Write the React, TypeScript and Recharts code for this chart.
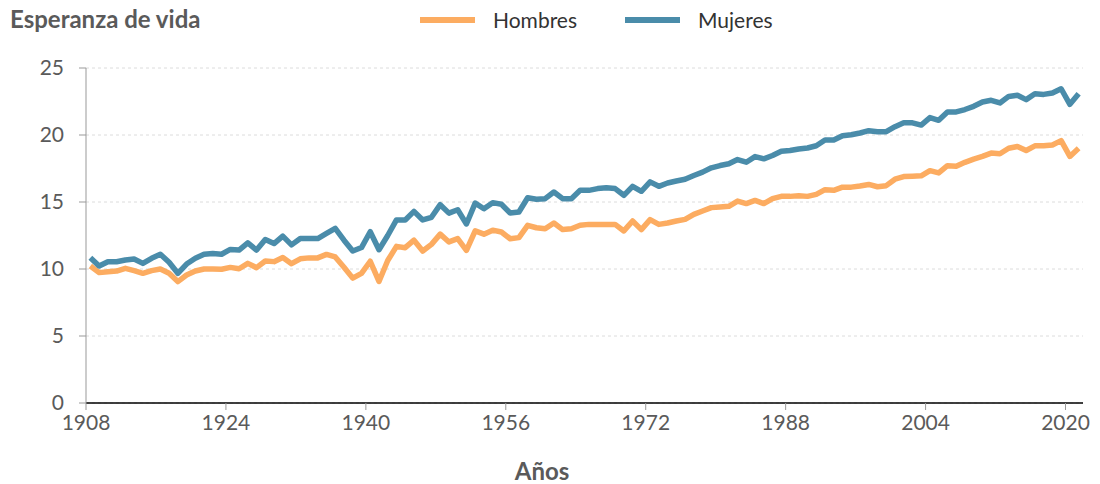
import React from 'react';
import { LineChart, Line, XAxis, YAxis, CartesianGrid } from 'recharts';

const START_YEAR = 1908;

const hombres: number[] = [
  10.22, 9.73, 9.8, 9.85, 10.05, 9.88, 9.68, 9.88, 10.0, 9.68, // 1908-1917
  9.06, 9.55, 9.85, 10.0, 10.0, 9.98, 10.12, 10.02, 10.42, 10.1, // 1918-1927
  10.6, 10.55, 10.85, 10.4, 10.76, 10.83, 10.83, 11.09, 10.9, 10.13, // 1928-1937
  9.32, 9.67, 10.58, 9.07, 10.63, 11.69, 11.59, 12.15, 11.34, 11.84, // 1938-1947
  12.6, 12.02, 12.27, 11.39, 12.85, 12.6, 12.9, 12.76, 12.26, 12.34, // 1948-1957
  13.26, 13.08, 13.0, 13.43, 12.94, 13.0, 13.26, 13.33, 13.33, 13.33, // 1958-1967
  13.33, 12.84, 13.58, 12.94, 13.68, 13.33, 13.43, 13.58, 13.7, 14.08, // 1968-1977
  14.33, 14.58, 14.63, 14.68, 15.07, 14.88, 15.12, 14.88, 15.25, 15.42, // 1978-1987
  15.42, 15.47, 15.42, 15.57, 15.92, 15.87, 16.11, 16.11, 16.19, 16.31, // 1988-1997
  16.14, 16.22, 16.7, 16.9, 16.92, 16.95, 17.34, 17.17, 17.71, 17.66, // 1998-2007
  17.96, 18.2, 18.4, 18.65, 18.6, 19.01, 19.14, 18.84, 19.19, 19.19, // 2008-2017
  19.26, 19.58, 18.4, 19.01, // 2018-2021
];

const mujeres: number[] = [
  10.84, 10.22, 10.54, 10.54, 10.67, 10.74, 10.42, 10.8, 11.1, 10.5, // 1908-1917
  9.68, 10.37, 10.8, 11.1, 11.15, 11.1, 11.46, 11.41, 11.95, 11.41, // 1918-1927
  12.2, 11.9, 12.45, 11.8, 12.27, 12.27, 12.27, 12.65, 13.03, 12.15, // 1928-1937
  11.34, 11.6, 12.78, 11.44, 12.5, 13.66, 13.66, 14.3, 13.66, 13.86, // 1938-1947
  14.8, 14.17, 14.42, 13.36, 14.92, 14.5, 14.95, 14.83, 14.18, 14.25, // 1948-1957
  15.32, 15.2, 15.25, 15.75, 15.25, 15.25, 15.87, 15.87, 16.0, 16.07, // 1958-1967
  16.0, 15.5, 16.17, 15.8, 16.5, 16.17, 16.42, 16.57, 16.7, 16.98, // 1968-1977
  17.23, 17.55, 17.72, 17.85, 18.17, 17.97, 18.39, 18.22, 18.47, 18.79, // 1978-1987
  18.84, 18.96, 19.03, 19.2, 19.63, 19.63, 19.95, 20.02, 20.15, 20.32, // 1988-1997
  20.25, 20.25, 20.62, 20.91, 20.91, 20.74, 21.3, 21.1, 21.72, 21.72, // 1998-2007
  21.9, 22.14, 22.46, 22.59, 22.39, 22.88, 22.96, 22.64, 23.08, 23.03, // 2008-2017
  23.13, 23.45, 22.29, 23.08, // 2018-2021
];

const years: number[] = hombres.map((_, i) => START_YEAR + i);

const xTicks = [1908, 1924, 1940, 1956, 1972, 1988, 2004, 2020];
const yTicks = [0, 5, 10, 15, 20, 25];

const seriesNames = { hombres: 'Hombres', mujeres: 'Mujeres' };
const COLOR_H = '#FCAC61';
const COLOR_M = '#4A8CAA';
const TEXT = '#5a5a5a';
const FONT = 'Lato, "Open Sans", sans-serif';

// mid-year positioning of annual values
const data = years.map((y, i) => ({ x: y + 0.5, year: y, hombres: hombres[i], mujeres: mujeres[i] }));

export default function App() {
  return (
    <div style={{ position: 'absolute', left: 0, top: 0, width: 1100, height: 484, background: '#fff', fontFamily: FONT }}>
      <div style={{ position: 'absolute', left: 10, top: 7, fontSize: 24, lineHeight: '24px', fontWeight: 700, color: TEXT }}>
        Esperanza de vida
      </div>
      <div style={{ position: 'absolute', left: 420, top: 10, height: 20, display: 'flex', alignItems: 'center', fontSize: 21, lineHeight: '20px', color: '#333' }}>
        <span style={{ display: 'inline-block', width: 55, height: 6, background: COLOR_H }} />
        <span style={{ marginLeft: 18 }}>{seriesNames.hombres}</span>
        <span style={{ display: 'inline-block', width: 55, height: 6, background: COLOR_M, marginLeft: 48 }} />
        <span style={{ marginLeft: 18 }}>{seriesNames.mujeres}</span>
      </div>
      <div style={{ position: 'absolute', left: 542, top: 459, transform: 'translateX(-50%)', fontSize: 24, lineHeight: '24px', fontWeight: 700, color: TEXT }}>
        Años
      </div>
      <LineChart width={1100} height={484} data={data} margin={{ top: 68, right: 17, bottom: 51, left: 26 }}>
        <CartesianGrid vertical={false} stroke="#dcdcdc" strokeDasharray="3 3" />
        <XAxis
          dataKey="x"
          type="number"
          domain={[1908, 2022]}
          ticks={xTicks}
          height={30}
          axisLine={{ stroke: '#000', strokeWidth: 1.5 }}
          tickLine={{ stroke: '#999' }}
          tickSize={7}
          tickMargin={5}
          tick={{ fill: TEXT, fontSize: 21, fontFamily: FONT }}
        />
        <YAxis
          type="number"
          domain={[0, 25]}
          ticks={yTicks}
          width={60}
          axisLine={{ stroke: '#999' }}
          tickLine={{ stroke: '#999' }}
          tickSize={7}
          tickMargin={15}
          tick={{ fill: TEXT, fontSize: 21, fontFamily: FONT }}
        />
        <Line type="linear" dataKey="hombres" name={seriesNames.hombres} stroke={COLOR_H} strokeWidth={5.5} dot={false} isAnimationActive={false} strokeLinejoin="round" />
        <Line type="linear" dataKey="mujeres" name={seriesNames.mujeres} stroke={COLOR_M} strokeWidth={5.5} dot={false} isAnimationActive={false} strokeLinejoin="round" />
      </LineChart>
    </div>
  );
}
